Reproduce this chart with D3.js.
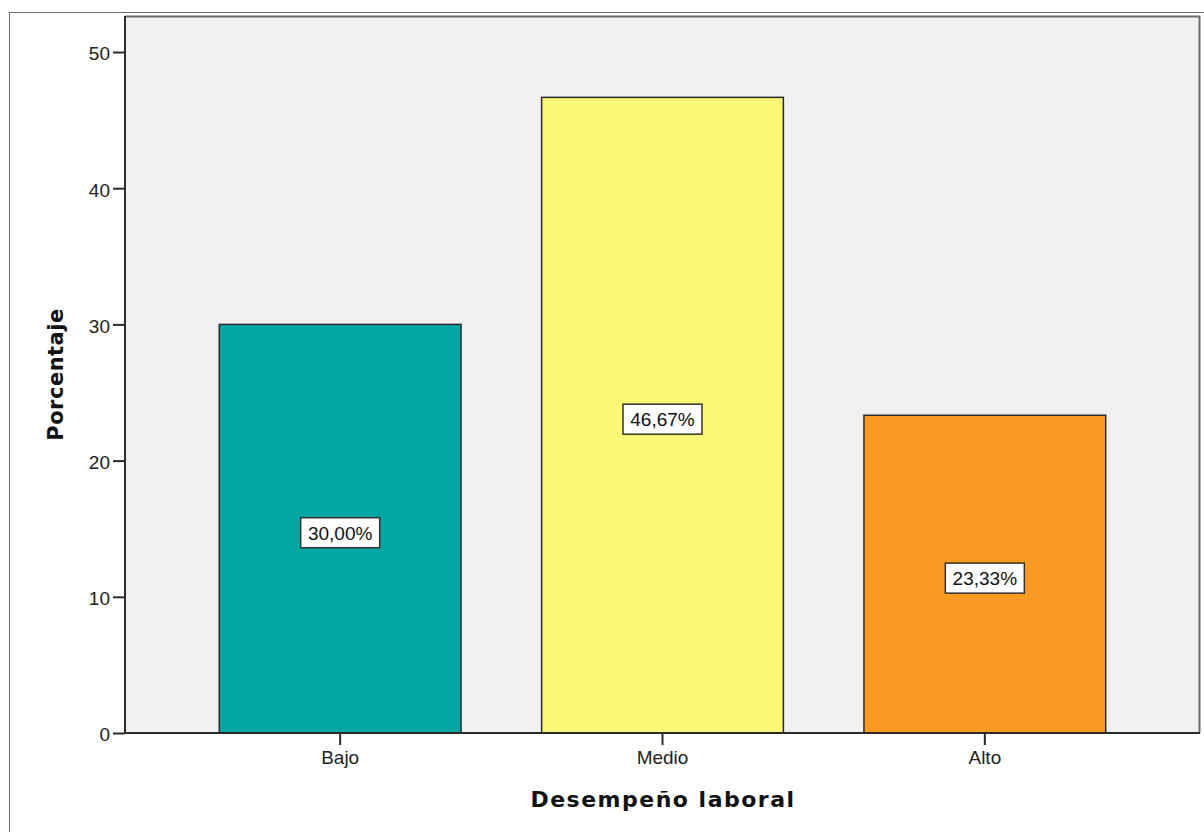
<!DOCTYPE html>
<html>
<head>
<meta charset="utf-8">
<script src="https://cdn.jsdelivr.net/npm/d3@7"></script>
<style>
  html, body { margin: 0; padding: 0; background: #ffffff; }
  svg { display: block; }
</style>
</head>
<body>
<svg id="chart" width="1204" height="832"></svg>
<script>
// Distribución del desempeño laboral (porcentaje por nivel)
const categories = ["Bajo", "Medio", "Alto"];
const percentages = [30.00, 46.67, 23.33];
const valueLabels = ["30,00%", "46,67%", "23,33%"];
const yTicks = [0, 10, 20, 30, 40, 50];
const barColors = ["#00a6a3", "#faf676", "#f89a20"];

const svg = d3.select("#chart");
const W = 1204, H = 832;
const plot = { left: 125, top: 16, right: 1200, bottom: 733 };
const font = "'Liberation Sans', Arial, sans-serif";
const titleFont = "'DejaVu Sans', Verdana, sans-serif";

// outer frame
svg.append("rect")
  .attr("x", 9.5).attr("y", 12.5)
  .attr("width", W).attr("height", H)
  .attr("fill", "#ffffff")
  .attr("stroke", "#6e6e6e").attr("stroke-width", 1);

// plot background
svg.append("rect")
  .attr("x", plot.left).attr("y", plot.top)
  .attr("width", plot.right - plot.left).attr("height", plot.bottom - plot.top)
  .attr("fill", "#f0f0f0");

// top and right edges of plot frame
svg.append("path")
  .attr("d", `M${plot.left},${plot.top + 0.5}H${plot.right - 0.5}V${plot.bottom}`)
  .attr("fill", "none").attr("stroke", "#6b6b6b").attr("stroke-width", 2);

const x = d3.scaleBand()
  .domain(categories)
  .range([179, 1146])
  .paddingInner(0.25)
  .paddingOuter(0.125);

const y = d3.scaleLinear()
  .domain([0, 50])
  .range([plot.bottom, 52]);

// bars
svg.append("g").selectAll("rect")
  .data(categories)
  .join("rect")
  .attr("x", (d) => x(d))
  .attr("y", (d, i) => y(percentages[i]))
  .attr("width", x.bandwidth())
  .attr("height", (d, i) => y(0) - y(percentages[i]))
  .attr("fill", (d, i) => barColors[i])
  .attr("stroke", "#2b2b2b")
  .attr("stroke-width", 1.5);

// y axis
const yAxis = svg.append("g")
  .attr("transform", `translate(${plot.left},0)`)
  .call(d3.axisLeft(y).tickValues(yTicks).tickSize(12).tickPadding(3).tickFormat(d3.format("d")));
yAxis.select(".domain").attr("stroke", "#2b2b2b").attr("stroke-width", 2)
  .attr("d", `M0,${plot.top}V${plot.bottom}`);
yAxis.selectAll(".tick line").attr("stroke", "#2b2b2b").attr("stroke-width", 2);
yAxis.selectAll(".tick text")
  .attr("font-family", font).attr("font-size", 19).attr("fill", "#222")
  .attr("dy", "0.42em");

// x axis
const xAxis = svg.append("g")
  .attr("transform", `translate(0,${plot.bottom})`)
  .call(d3.axisBottom(x).tickSize(12).tickPadding(6));
xAxis.select(".domain").attr("stroke", "#2b2b2b").attr("stroke-width", 2)
  .attr("d", `M${plot.left},0H${plot.right}`);
xAxis.selectAll(".tick line").attr("stroke", "#2b2b2b").attr("stroke-width", 2);
xAxis.selectAll(".tick text")
  .attr("font-family", font).attr("font-size", 19).attr("fill", "#222");

// value labels in boxes at mid-height of each bar
const labels = svg.append("g").selectAll("g")
  .data(categories)
  .join("g")
  .attr("transform", (d, i) =>
    `translate(${x(d) + x.bandwidth() / 2},${y(percentages[i] / 2) + 4})`);
labels.append("rect")
  .attr("x", -39.5).attr("y", -15)
  .attr("width", 79).attr("height", 30)
  .attr("fill", "#ffffff")
  .attr("stroke", "#333").attr("stroke-width", 1.5);
labels.append("text")
  .attr("text-anchor", "middle")
  .attr("dy", "0.36em")
  .attr("font-family", font).attr("font-size", 19).attr("fill", "#111")
  .text((d, i) => valueLabels[i]);

// axis titles
svg.append("text")
  .attr("x", 663).attr("y", 807)
  .attr("text-anchor", "middle")
  .attr("font-family", titleFont)
  .attr("font-weight", "bold").attr("font-size", 22)
  .attr("letter-spacing", 1.5).attr("fill", "#111")
  .text("Desempeño laboral");

svg.append("text")
  .attr("transform", `translate(63,${(plot.top + plot.bottom) / 2}) rotate(-90)`)
  .attr("text-anchor", "middle")
  .attr("font-family", titleFont)
  .attr("font-weight", "bold").attr("font-size", 21)
  .attr("letter-spacing", 0.5).attr("fill", "#111")
  .text("Porcentaje");
</script>
</body>
</html>
